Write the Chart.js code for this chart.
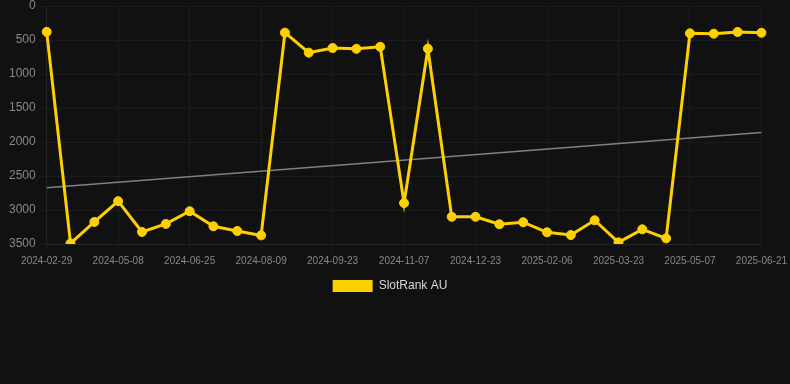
<!DOCTYPE html>
<html>
<head>
<meta charset="utf-8">
<script src="https://cdn.jsdelivr.net/npm/chart.js@4/dist/chart.umd.min.js"></script>
<style>
  html, body { margin: 0; padding: 0; background: #111111; }
  #wrap { width: 790px; height: 302px; position: relative; }
</style>
</head>
<body>
<div id="wrap"><canvas id="c"></canvas></div>
<script>
const categories = [
  "2024-02-29","2024-03-23","2024-04-15","2024-05-08","2024-05-24","2024-06-09",
  "2024-06-25","2024-07-10","2024-07-25","2024-08-09","2024-08-24","2024-09-08",
  "2024-09-23","2024-10-08","2024-10-23","2024-11-07","2024-11-22","2024-12-08",
  "2024-12-23","2025-01-07","2025-01-22","2025-02-06","2025-02-21","2025-03-08",
  "2025-03-23","2025-04-07","2025-04-22","2025-05-07","2025-05-22","2025-06-06",
  "2025-06-21"
];
const slotRankAU = [
  380, 3490, 3176, 2870, 3323, 3205, 3018, 3240, 3309, 3373,
  392, 686, 618, 630, 600, 2898, 628, 3100, 3100, 3210,
  3180, 3328, 3368, 3151, 3476, 3284, 3417, 402, 407, 382,
  394
];
const trendStart = 2674;
const trendEnd = 1861;
const trend = categories.map((c, i) => (i === 0 ? trendStart : (i === categories.length - 1 ? trendEnd : null)));
const yTicks = [0, 500, 1000, 1500, 2000, 2500, 3000, 3500];

new Chart(document.getElementById('c'), {
  type: 'line',
  data: {
    labels: categories,
    datasets: [
      {
        label: 'SlotRank AU',
        data: slotRankAU,
        borderColor: '#FFD000',
        backgroundColor: '#FFD000',
        borderWidth: 3,
        pointRadius: 4.5,
        pointBorderWidth: 1,
        pointBackgroundColor: '#FFD000',
        pointBorderColor: '#FFD000',
        tension: 0
      },
      {
        label: 'trend',
        data: trend,
        spanGaps: true,
        borderColor: 'rgba(135,135,135,0.95)',
        borderWidth: 1.5,
        pointRadius: 0,
        tension: 0
      }
    ]
  },
  options: {
    responsive: true,
    maintainAspectRatio: false,
    animation: false,
    layout: { padding: { top: 0, right: 16, left: 6 } },
    plugins: {
      legend: {
        position: 'bottom',
        labels: {
          color: '#d8d8d8',
          font: { family: 'Liberation Sans, Arial, sans-serif', size: 12 },
          boxWidth: 40,
          boxHeight: 12,
          generateLabels: (chart) => Chart.defaults.plugins.legend.labels.generateLabels(chart)
            .filter(item => item.text !== 'trend')
            .map(item => Object.assign(item, { lineWidth: 0 }))
        }
      },
      tooltip: { enabled: false }
    },
    scales: {
      x: {
        grid: { color: 'rgba(255,255,255,0.045)' },
        border: { color: 'rgba(255,255,255,0.045)' },
        ticks: {
          color: '#888888',
          font: { family: 'Liberation Sans, Arial, sans-serif', size: 10 },
          autoSkip: false,
          maxRotation: 0,
          callback: function (v, i) { return i % 3 === 0 ? categories[i] : null; }
        }
      },
      y: {
        reverse: true,
        min: yTicks[0],
        max: yTicks[yTicks.length - 1],
        grid: { color: 'rgba(255,255,255,0.045)' },
        border: { color: 'rgba(255,255,255,0.045)' },
        afterBuildTicks: (axis) => { axis.ticks = yTicks.map(v => ({ value: v })); },
        afterFit: (scale) => { scale.paddingTop = 6; },
        ticks: {
          color: '#888888',
          font: { family: 'Liberation Sans, Arial, sans-serif', size: 12 },
          callback: (v) => String(v)
        }
      }
    }
  }
});
</script>
</body>
</html>
